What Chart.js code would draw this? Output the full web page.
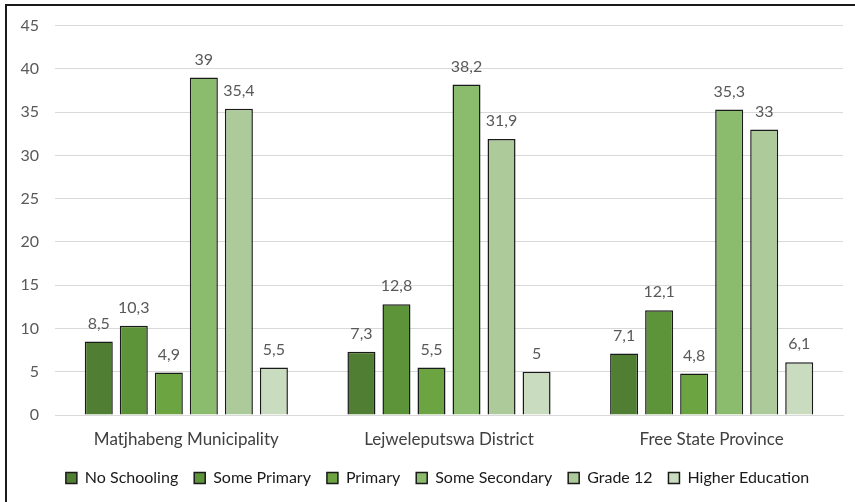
<!DOCTYPE html>
<html>
<head>
<meta charset="utf-8">
<script src="https://cdn.jsdelivr.net/npm/chart.js@4/dist/chart.umd.min.js"></script>
<style>
  body { margin: 0; background: #fff; }
  #wrap { position: relative; width: 855px; height: 502px; overflow: hidden; }
  #frame { position: absolute; left: 5px; top: 4px; width: 900px; height: 600px; border: 2px solid #1a1a1a; box-sizing: border-box; }
  canvas { position: absolute; left: 0; top: 0; }
</style>
</head>
<body>
<div id="wrap">
  <div id="frame"></div>
  <canvas id="chart" width="855" height="502"></canvas>
</div>
<script>
// Categories and series
const regions = ['Matjhabeng Municipality', 'Lejweleputswa District', 'Free State Province'];
const noSchooling = [8.5, 7.3, 7.1];
const somePrimary = [10.3, 12.8, 12.1];
const primary = [4.9, 5.5, 4.8];
const someSecondary = [39, 38.2, 35.3];
const grade12 = [35.4, 31.9, 33];
const higherEducation = [5.5, 5, 6.1];
const yTicks = [0, 5, 10, 15, 20, 25, 30, 35, 40, 45];

const fontFamily = 'Lato, "Open Sans", sans-serif';

// Draw the value above each bar, with a comma as decimal mark
const barLabels = {
    id: 'barLabels',
    afterDatasetsDraw(chart) {
        const ctx = chart.ctx;
        ctx.save();
        ctx.font = '16px ' + fontFamily;
        ctx.fillStyle = '#595959';
        ctx.textAlign = 'center';
        ctx.textBaseline = 'bottom';
        chart.data.datasets.forEach((ds, i) => {
            chart.getDatasetMeta(i).data.forEach((bar, j) => {
                const txt = String(ds.data[j]).replace('.', ',');
                ctx.fillText(txt, bar.x, bar.y - 10);
            });
        });
        ctx.restore();
    }
};

// Move the legend a little to the right, as in the original
const legendShift = {
    id: 'legendShift',
    afterLayout(chart) {
        chart.legend.left += 11;
        chart.legend.right += 11;
    }
};

function series(label, data, color) {
    return {
        label: label,
        data: data,
        backgroundColor: color,
        borderColor: '#1a1a1a',
        borderWidth: 1.5,
        categoryPercentage: 0.8,
        barPercentage: 0.8
    };
}

new Chart(document.getElementById('chart'), {
    type: 'bar',
    data: {
        labels: regions,
        datasets: [
            series('No Schooling', noSchooling, '#507e32'),
            series('Some Primary', somePrimary, '#5e9439'),
            series('Primary', primary, '#6ba440'),
            series('Some Secondary', someSecondary, '#8bbb6c'),
            series('Grade 12', grade12, '#adcb9a'),
            series('Higher Education', higherEducation, '#c9dcbf')
        ]
    },
    options: {
        responsive: false,
        animation: false,
        layout: { padding: { left: 10, right: 12, top: 23, bottom: 6 } },
        plugins: {
            legend: {
                position: 'bottom',
                labels: {
                    color: '#1a1a1a',
                    font: { family: fontFamily, size: 16 },
                    boxWidth: 11,
                    boxHeight: 11,
                    padding: 16
                }
            },
            tooltip: { enabled: false }
        },
        scales: {
            x: {
                afterFit(axis) { axis.height = 39; },
                grid: { display: false, drawTicks: false },
                border: { color: '#d9d9d9', width: 1 },
                ticks: { color: '#404040', font: { family: fontFamily, size: 17 }, padding: 14 }
            },
            y: {
                min: 0,
                max: 45,
                afterBuildTicks(axis) {
                    axis.ticks = yTicks.map(v => ({ value: v }));
                },
                afterFit(axis) { axis.width = 45; },
                grid: { color: '#d9d9d9', drawTicks: false },
                border: { display: false },
                ticks: { color: '#595959', font: { family: fontFamily, size: 16 }, padding: 16 }
            }
        }
    },
    plugins: [barLabels, legendShift]
});
</script>
</body>
</html>
